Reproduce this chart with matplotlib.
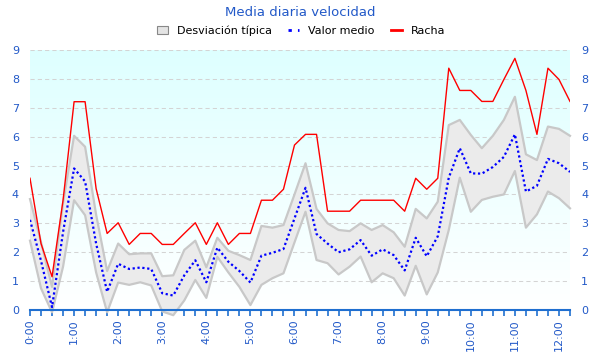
import numpy as np
import matplotlib
matplotlib.use("Agg")
import matplotlib.pyplot as plt
from matplotlib.lines import Line2D
from matplotlib.patches import Patch

# 15-minute steps starting at 0:00
hour_labels = [f"{h}:00" for h in range(13)]

racha = [4.56, 2.3, 1.15, 3.8, 7.21, 7.21, 4.2, 2.65, 3.02, 2.27,
         2.65, 2.65, 2.27, 2.27, 2.65, 3.02, 2.27, 3.02, 2.27, 2.65,
         2.65, 3.8, 3.8, 4.18, 5.71, 6.08, 6.08, 3.42, 3.42, 3.42,
         3.8, 3.8, 3.8, 3.8, 3.42, 4.56, 4.18, 4.56, 8.37, 7.6,
         7.6, 7.22, 7.22, 7.98, 8.71, 7.6, 6.08, 8.37, 7.98, 7.22]

valor_medio = [3.12, 1.7, 0.1, 2.7, 4.9, 4.45, 2.3, 0.63, 1.6, 1.42,
               1.47, 1.42, 0.58, 0.5, 1.2, 1.72, 0.96, 2.16, 1.67, 1.35,
               0.95, 1.88, 1.98, 2.11, 3.17, 4.23, 2.63, 2.3, 2.0, 2.1,
               2.42, 1.88, 2.1, 1.9, 1.37, 2.5, 1.86, 2.55, 4.58, 5.6,
               4.73, 4.72, 4.95, 5.3, 6.08, 4.1, 4.3, 5.23, 5.08, 4.78]

desv_sup = [3.84, 2.35, 0.8, 3.7, 6.03, 5.65, 3.3, 1.35, 2.3, 1.93,
            1.96, 1.96, 1.17, 1.2, 2.08, 2.4, 1.48, 2.5, 2.05, 1.9,
            1.73, 2.91, 2.85, 2.94, 4.0, 5.08, 3.5, 3.0, 2.77, 2.73,
            3.0, 2.77, 2.94, 2.69, 2.19, 3.5, 3.17, 3.75, 6.4, 6.58,
            6.06, 5.6, 6.03, 6.58, 7.38, 5.39, 5.19, 6.35, 6.27, 6.03]

desv_inf = [2.4, 0.75, -0.08, 1.5, 3.8, 3.28, 1.3, -0.08, 0.95, 0.87,
            0.96, 0.85, -0.05, -0.18, 0.33, 1.04, 0.42, 1.84, 1.3, 0.8,
            0.17, 0.87, 1.1, 1.27, 2.34, 3.4, 1.73, 1.62, 1.23, 1.5,
            1.85, 0.96, 1.27, 1.1, 0.5, 1.53, 0.54, 1.3, 2.77, 4.58,
            3.4, 3.81, 3.92, 4.0, 4.81, 2.85, 3.31, 4.1, 3.87, 3.52]

x = np.arange(len(racha)) * 0.25

blue_txt = "#2259c8"

fig = plt.figure(figsize=(6, 3.6), dpi=100)
ax = fig.add_axes([30/600, 50/360, 540/600, 260/360])

# gradient background
grad = np.linspace(0, 1, 256).reshape(-1, 1)
top = np.array([222, 255, 255]) / 255.0
bot = np.array([255, 255, 255]) / 255.0
img = top[None, None, :] * grad[:, :, None] + bot[None, None, :] * (1 - grad[:, :, None])
ax.imshow(img, extent=[0, 12.25, 0, 9], origin="lower", aspect="auto", zorder=0)

ax.set_xlim(0, 12.25)
ax.set_ylim(0, 9)

for yv in range(1, 10):
    ax.axhline(yv, color="#d4d4d4", lw=0.75, dashes=(4, 3), zorder=1)

ax.fill_between(x, desv_inf, desv_sup, facecolor="#ebebeb", edgecolor="none",
                zorder=2, clip_on=False)
ax.plot(x, desv_sup, color="#c8c8c8", lw=1.6, zorder=3, clip_on=False)
ax.plot(x, desv_inf, color="#c8c8c8", lw=1.6, zorder=3, clip_on=False)
ax.plot(x, valor_medio, color="#0000ff", lw=1.6, dashes=(1, 1.2), zorder=4)
ax.plot(x, racha, color="#ff0000", lw=1.0, zorder=5)

for s in ["left", "right", "top"]:
    ax.spines[s].set_visible(False)
ax.spines["bottom"].set_color("#1f6fd0")
ax.spines["bottom"].set_linewidth(1.5)
ax.spines["bottom"].set_zorder(6)

ax.set_xticks(np.arange(0, 12.26, 0.25), minor=True)
ax.set_xticks(np.arange(13))
ax.set_xticklabels(hour_labels, rotation=90, color=blue_txt, fontsize=8)
ax.tick_params(axis="x", which="both", direction="out", length=4.5,
               color="#1f6fd0", width=1.2, pad=2)

ax.set_yticks(range(10))
ax.tick_params(axis="y", length=0, labelcolor=blue_txt, labelsize=8,
               pad=8, labelleft=True, labelright=True)

fig.text(0.5, 1 - 12/360, "Media diaria velocidad", ha="center", va="center",
         color=blue_txt, fontsize=9.5)

handles = [
    Patch(facecolor="#e4e4e4", edgecolor="#888888", linewidth=0.8),
    Line2D([], [], color="#0000ff", lw=2, dashes=(1.2, 2.2)),
    Line2D([], [], color="#ff0000", lw=2),
]
labels = ["Desviación típica", "Valor medio", "Racha"]
fig.legend(handles, labels, loc="center", bbox_to_anchor=(0.502, 1 - 31/360),
           ncol=3, frameon=False, fontsize=8, handlelength=1.0,
           handleheight=0.7, handletextpad=0.8, columnspacing=1.5)

fig.savefig("out.png", dpi=100)
